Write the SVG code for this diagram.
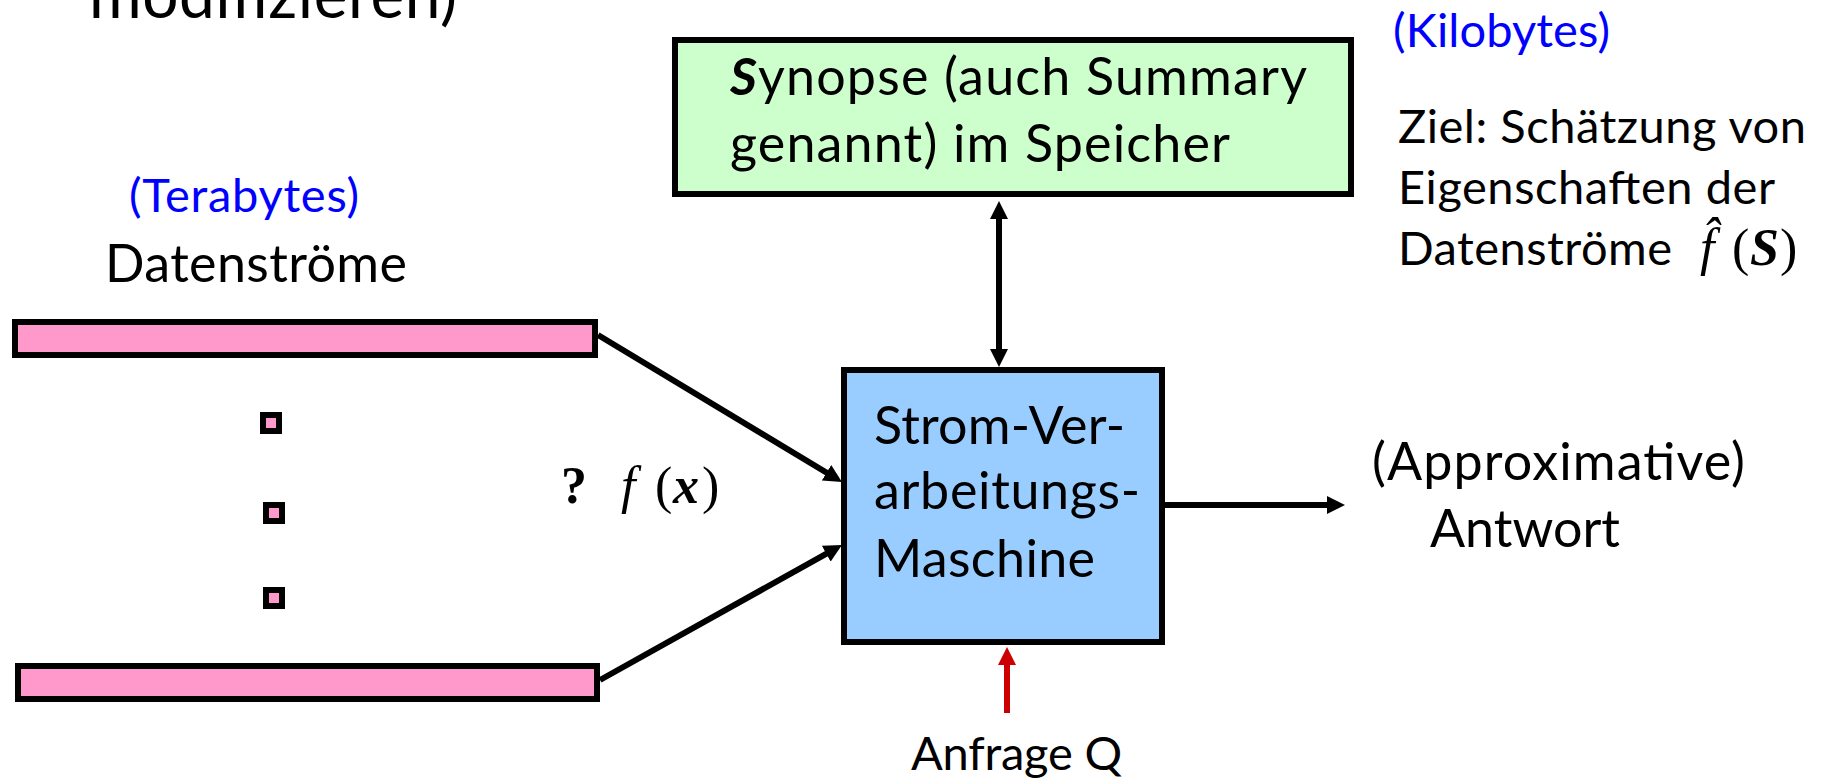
<svg xmlns="http://www.w3.org/2000/svg" width="1825" height="779" viewBox="0 0 1825 779">
<style>
.t{font-family:Lato,"Open Sans","Liberation Sans",sans-serif;fill:#000}
.big{font-size:52px}
.mid{font-size:47px}
.blue{fill:#0000FF}
.m{font-family:"Liberation Serif","DejaVu Serif",serif;font-size:52px;fill:#000}
.box{stroke:#000;stroke-width:6}
.con{stroke:#000;stroke-width:6;fill:none}
</style>
<defs>
<marker id="ah" markerUnits="userSpaceOnUse" markerWidth="18" markerHeight="18" refX="6" refY="9" orient="auto-start-reverse"><path d="M0,0 L18,9 L0,18 z" fill="#000"/></marker>
<marker id="ahr" markerUnits="userSpaceOnUse" markerWidth="18" markerHeight="18" refX="6" refY="9" orient="auto"><path d="M0,0 L18,9 L0,18 z" fill="#CC0000"/></marker>
</defs>
<rect width="1825" height="779" fill="#fff"/>

<text class="t" x="89" y="18" font-size="64" textLength="368">modifizieren)</text>

<g id="labels-left">
<text class="t mid blue" x="129" y="212" textLength="230">(Terabytes)</text>
<text class="t big" x="105" y="282" textLength="302">Datenströme</text>
</g>

<g id="stream1"><rect class="box" x="15" y="322" width="580" height="33" fill="#FF99CC"/></g>
<g id="stream2"><rect class="box" x="18" y="666" width="579" height="33" fill="#FF99CC"/></g>
<g id="dots">
<rect class="box" x="263" y="415" width="16" height="16" fill="#FF99CC"/>
<rect class="box" x="266" y="505" width="16" height="16" fill="#FF99CC"/>
<rect class="box" x="266" y="590" width="16" height="16" fill="#FF99CC"/>
</g>

<g id="fx">
<text class="m" x="561" y="503" font-size="48" font-weight="bold">?</text>
<text class="m" x="621" y="503"><tspan font-style="italic">f</tspan><tspan x="655">(</tspan><tspan x="673" font-style="italic" font-weight="bold">x</tspan><tspan x="702">)</tspan></text>
</g>

<g id="synopse">
<rect class="box" x="675" y="40" width="676" height="154" fill="#CCFFCC"/>
<text class="t big" x="730" y="95" textLength="577"><tspan font-weight="bold" font-style="italic">S</tspan>ynopse (auch Summary</text>
<text class="t big" x="730" y="162" textLength="500">genannt) im Speicher</text>
</g>

<g id="engine">
<rect class="box" x="844" y="370" width="318" height="272" fill="#99CCFF"/>
<text class="t big" x="874" y="444" textLength="251">Strom-Ver-</text>
<text class="t big" x="874" y="509" textLength="266">arbeitungs-</text>
<text class="t big" x="874" y="577" textLength="221">Maschine</text>
</g>

<g id="ziel">
<text class="t mid blue" x="1393" y="47" textLength="217">(Kilobytes)</text>
<text class="t mid" x="1398" y="143" textLength="408">Ziel: Schätzung von</text>
<text class="t mid" x="1398" y="204" textLength="377">Eigenschaften der</text>
<text class="t mid" x="1398" y="265" textLength="274">Datenströme</text>
<text class="m" x="1700" y="265"><tspan font-style="italic">f̂</tspan><tspan x="1732">(</tspan><tspan x="1750" font-style="italic" font-weight="bold">S</tspan><tspan x="1780">)</tspan></text>
</g>

<g id="answer">
<text class="t big" x="1372" y="480" textLength="373">(Approximative)</text>
<text class="t big" x="1430" y="547" textLength="190">Antwort</text>
</g>

<g id="query">
<text class="t mid" x="911" y="770" textLength="211">Anfrage Q</text>
</g>

<g id="connectors">
<line class="con" x1="598" y1="335" x2="831.7" y2="475.8" marker-end="url(#ah)"/>
<line class="con" x1="600" y1="680" x2="831.5" y2="550.8" marker-end="url(#ah)"/>
<line class="con" x1="999" y1="213" x2="999" y2="355" marker-start="url(#ah)" marker-end="url(#ah)"/>
<line class="con" x1="1165" y1="505" x2="1333" y2="505" marker-end="url(#ah)"/>
<line x1="1007" y1="713" x2="1007" y2="659" stroke="#CC0000" stroke-width="6" marker-end="url(#ahr)"/>
</g>
</svg>
